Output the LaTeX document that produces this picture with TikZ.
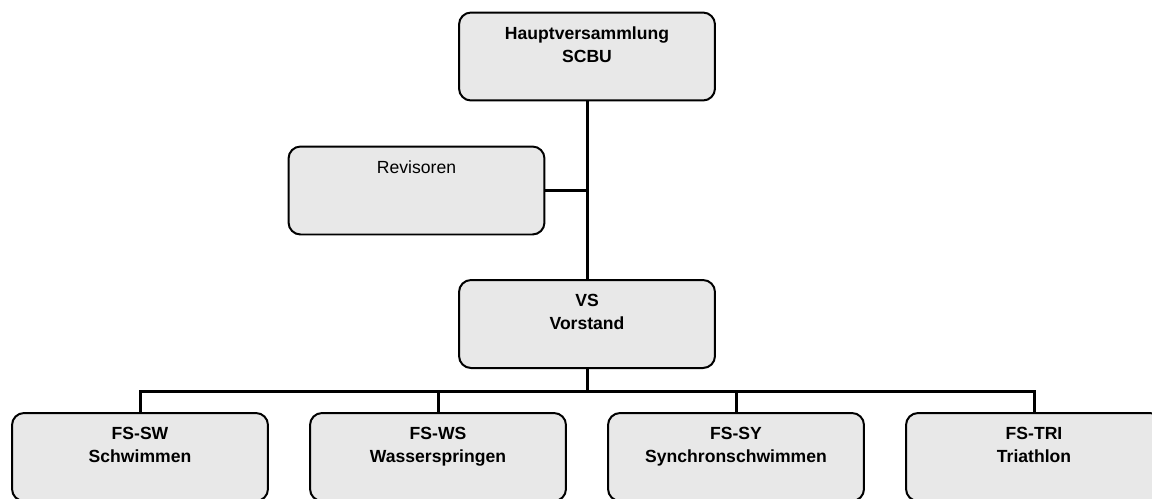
\documentclass[tikz,border=0pt]{standalone}
\usepackage{fontspec}
\setmainfont{Liberation Sans}
\definecolor{boxgray}{RGB}{232,232,232}
\tikzset{orgbox/.style={draw, fill=boxgray, rounded corners=0.24cm, line width=0.04cm,
		minimum width=5.12cm, minimum height=1.76cm, inner sep=0pt},
	boxtext/.style={anchor=north, yshift=-0.29cm, inner sep=0pt, align=center,
		font=\fontsize{10}{13.1}\selectfont\bfseries},
	plaintext/.style={boxtext, font=\fontsize{10}{13.1}\selectfont},
	link/.style={line width=0.06cm}}

\begin{document}
\begin{tikzpicture}[x=0.02cm, y=-0.02cm]
		\useasboundingbox (0,0) rectangle (1152,498);
		\node[orgbox, label={[boxtext]90:Hauptversammlung\\SCBU}] (hv) at (587,56.5){};
		\node[orgbox, label={[plaintext]90:Revisoren}] (rev) at (416.5,190.5){};
		\node[orgbox, label={[boxtext]90:VS\\Vorstand}] (vs) at (587,324){};
		\node[orgbox, label={[boxtext]90:FS-SW\\Schwimmen}] (sw) at (140,457){};
		\node[orgbox, label={[boxtext]90:FS-WS\\Wasserspringen}] (ws) at (438,457){};
		\node[orgbox, label={[boxtext]90:FS-SY\\Synchronschwimmen}] (sy) at (736,457){};
		\node[orgbox, label={[boxtext]90:FS-TRI\\Triathlon}] (tri) at (1034,457){};
		\coordinate (bus) at (587,391);
		\draw[link] (hv) -- (vs);
		\draw[link] (rev.east) -- (rev.east -| hv.south);
		\draw[link] (vs) -- (bus);
		\draw[link] (sw.north) |- (bus) -| (tri.north);
		\foreach \fs in {ws,sy}
			\draw[link] (\fs.north) -- (\fs.north |- bus);
		\end{tikzpicture}
\end{document}
